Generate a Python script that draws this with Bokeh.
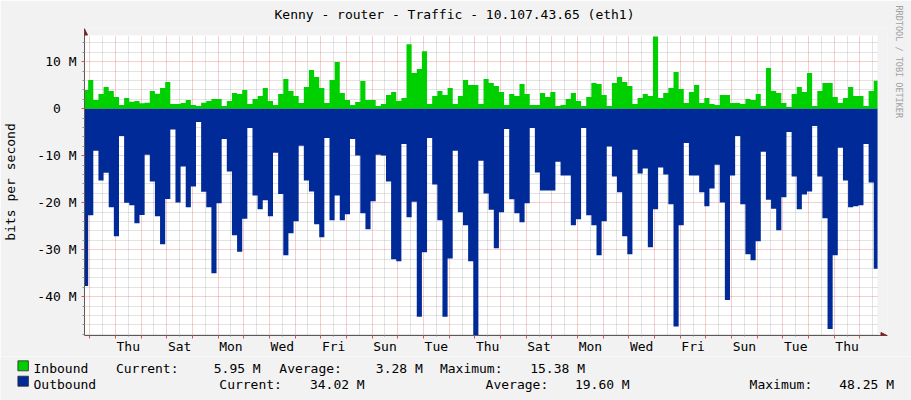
import numpy as np
from bokeh.plotting import figure
from bokeh.layouts import column
from bokeh.core.properties import value
from bokeh.models import (FixedTicker, Grid, Arrow, NormalHead, Range1d, Title, BoxAnnotation)
from bokeh.embed import file_html
from bokeh.resources import INLINE

# ---------------- data (Mbit/s), one value per 4.8 h sample ----------------
inbound = [
    3.99, 6.11, 1.87, 3.14, 4.63, 3.78, 2.50, 0.81, 2.29, 1.51, 1.65, 1.16, 1.30,
    3.78, 3.21, 4.41, 5.69, 1.02, 1.02, 1.23, 1.87, 0.81, 0.59, 1.30, 1.65, 2.08,
    2.08, 0.59, 1.65, 3.35, 3.14, 3.99, 1.02, 2.08, 2.72, 4.41, 1.65, 0.81, 3.14,
    6.32, 3.78, 2.72, 1.23, 4.63, 8.23, 6.75, 4.41, 1.23, 6.11, 9.93, 3.35, 1.87,
    0.81, 1.44, 5.90, 1.87, 1.87, 0.59, 1.02, 2.93, 3.56, 1.65, 2.29, 13.75, 7.60,
    8.44, 12.26, 1.02, 2.72, 3.78, 2.93, 4.41, 1.02, 2.72, 6.11, 5.05, 5.05, 1.02,
    6.32, 5.47, 4.84, 3.56, 0.81, 3.14, 2.72, 5.26, 3.14, 0.81, 0.81, 3.35, 2.50,
    3.56, 0.59, 0.81, 2.08, 3.35, 1.65, 0.59, 2.50, 5.47, 5.26, 2.93, 0.59, 5.47,
    6.75, 5.69, 4.84, 1.02, 2.29, 3.14, 2.72, 15.38, 2.29, 3.35, 4.41, 7.81, 4.20,
    1.23, 3.56, 5.05, 1.23, 2.29, 1.02, 0.81, 2.93, 2.93, 1.23, 1.23, 1.02, 2.08,
    1.87, 3.14, 0.59, 8.66, 3.78, 3.35, 1.23, 0.38, 3.14, 4.63, 3.56, 7.60, 0.59,
    3.78, 5.47, 5.47, 2.50, 1.23, 2.29, 4.63, 2.72, 2.72, 0.59, 3.78, 5.95,
]
outbound = [
    37.74, 22.67, 8.95, 15.25, 13.62, 20.98, 27.13, 5.77, 19.99, 20.55, 24.37, 22.60, 9.80,
    15.46, 22.89, 28.83, 19.21, 4.43, 19.92, 12.28, 20.98, 16.52, 2.80, 17.65, 20.98, 34.98,
    20.13, 6.41, 13.34, 26.92, 30.45, 23.38, 4.07, 18.43, 21.40, 19.49, 22.89, 9.38, 18.15,
    31.16, 26.49, 23.95, 7.89, 15.25, 17.58, 24.58, 27.34, 6.20, 23.73, 18.43, 23.73, 22.46,
    6.41, 9.94, 22.25, 25.64, 19.70, 9.80, 9.94, 15.46, 32.01, 32.43, 7.47, 23.10, 19.77,
    44.24, 30.52, 6.20, 16.10, 23.73, 44.24, 31.87, 8.95, 22.04, 24.79, 32.43, 48.25, 11.07,
    18.01, 21.47, 29.67, 22.04, 4.29, 19.28, 22.25, 24.16, 20.13, 4.07, 13.55, 17.37, 17.37,
    17.37, 11.29, 14.19, 14.19, 24.79, 23.52, 4.07, 22.67, 24.79, 31.16, 23.95, 8.03, 14.40,
    17.79, 27.13, 30.95, 8.74, 13.76, 12.70, 29.46, 21.40, 12.49, 13.97, 20.34, 46.36, 24.79,
    7.26, 14.19, 14.19, 17.79, 20.76, 16.94, 11.92, 19.92, 40.71, 14.19, 5.77, 20.34, 30.95,
    32.22, 28.19, 9.17, 19.35, 21.26, 25.86, 18.85, 4.92, 14.40, 21.40, 18.22, 17.58, 3.65,
    14.40, 23.31, 46.86, 31.16, 8.32, 15.25, 20.98, 20.76, 20.55, 7.47, 15.67, 34.02,
]
first_sample_day = -0.262   # start of first sample, in days after Wednesday 00:00
sample_days = 0.2           # 4.8 hours per sample

day_labels = ["Thu", "Sat", "Mon", "Wed", "Fri", "Sun", "Tue", "Thu",
              "Sat", "Mon", "Wed", "Fri", "Sun", "Tue", "Thu"]
day_label_pos = [1.5 + 2 * i for i in range(len(day_labels))]   # noon of each labelled day

y_ticks = [10, 0, -10, -20, -30, -40]
y_tick_labels = ["10 M", "0\u00a0\u00a0", "-10 M", "-20 M", "-30 M", "-40 M"]

title_text = "Kenny - router - Traffic - 10.107.43.65 (eth1)"
y_label = "bits per second"
watermark = "RRDTOOL / TOBI OETIKER"
series_names = ["Inbound", "Outbound"]
stat_names = ["Current:", "Average:", "Maximum:"]
inbound_stats = ["5.95 M", "3.28 M", "15.38 M"]
outbound_stats = ["34.02 M", "19.60 M", "48.25 M"]

# ---------------- geometry ----------------
FONT = "DejaVu Sans Mono"
BG = "#F2F2F2"
IN_COLOR, OUT_COLOR = "#00CF00", "#002A97"
X_START, X_DATA_END = -0.205, 30.686        # visible time span (days)
Y_START, Y_DATA_END = -48.25, 15.6          # visible value span (M)
FL, FT, FW, FH = 81, 35, 797, 301           # white canvas in page pixels
EXT_R, EXT_T = 10, 7                        # extra frame room for the axis arrows
MAIN_H = 356
day_per_px = (X_DATA_END - X_START) / FW
m_per_px = (Y_DATA_END - Y_START) / FH
X_END = X_DATA_END + EXT_R * day_per_px
Y_END = Y_DATA_END + EXT_T * m_per_px

edges = first_sample_day + sample_days * np.arange(len(inbound) + 1)
xs = np.minimum(np.repeat(edges, 2)[1:-1], X_DATA_END)
y_in = np.repeat(np.array(inbound), 2)
y_out = -np.repeat(np.array(outbound), 2)

p = figure(width=911, height=MAIN_H, output_backend="svg", toolbar_location=None,
           title=None, x_range=Range1d(X_START, X_END), y_range=Range1d(Y_START, Y_END),
           min_border_left=FL, min_border_top=FT - EXT_T,
           min_border_right=911 - FL - FW - EXT_R, min_border_bottom=MAIN_H - FT - FH,
           background_fill_color=BG, border_fill_color=BG, outline_line_color=None)

# white canvas behind the data
p.add_layout(BoxAnnotation(left=X_START, right=X_DATA_END, bottom=Y_START, top=Y_DATA_END,
                           fill_color="white", fill_alpha=1.0, line_color=None,
                           level="underlay"))

# grids
p.xgrid.visible = False
p.ygrid.visible = False
minor_x = [d + 0.5 for d in range(-1, 31)]
major_x = list(range(0, 31))
minor_y = [v for v in range(-48, 16, 2) if v % 10 != 0]
major_y = list(range(-40, 11, 10))
for dim, ticks, color, alpha in [(0, minor_x, "#8f8f8f", 0.5), (1, minor_y, "#8f8f8f", 0.5),
                                  (0, major_x, "#de4f4f", 0.55), (1, major_y, "#de4f4f", 0.55)]:
    cb = (Y_START, Y_DATA_END) if dim == 0 else (X_START, X_DATA_END)
    p.add_layout(Grid(dimension=dim, ticker=FixedTicker(ticks=ticks), cross_bounds=cb,
                      grid_line_color=color, grid_line_alpha=alpha,
                      grid_line_dash="1 1", level="underlay"))

r_in = p.varea(x=xs, y1=0, y2=y_in, fill_color=IN_COLOR)
r_out = p.varea(x=xs, y1=0, y2=y_out, fill_color=OUT_COLOR)

# axes
ax = p.xaxis[0]
ax.ticker = FixedTicker(ticks=day_label_pos, minor_ticks=major_x)
ax.major_label_overrides = {d: n for d, n in zip(day_label_pos, day_labels)}
ay = p.yaxis[0]
ay.ticker = FixedTicker(ticks=y_ticks, minor_ticks=minor_y)
ay.major_label_overrides = {t: s for t, s in zip(y_ticks, y_tick_labels)}
for a in (ax, ay):
    a.axis_line_color = "#5a5a5a"
    a.major_label_text_font = FONT
    a.major_label_text_font_size = "13px"
    a.major_label_text_color = "black"
    a.major_tick_in = 0
    a.minor_tick_in = 0
ax.major_tick_out = 1
ax.major_tick_line_color = "#8f8f8f"
ax.minor_tick_out = 3
ax.minor_tick_line_color = "#de4f4f"
ax.major_label_standoff = 0
ay.major_tick_out = 3
ay.major_tick_line_color = "#de4f4f"
ay.minor_tick_out = 2
ay.minor_tick_line_color = "#8f8f8f"
ay.major_label_standoff = 5
ay.axis_label = y_label
ay.axis_label_text_font = FONT
ay.axis_label_text_font_size = "13px"
ay.axis_label_text_font_style = "normal"
ay.axis_label_text_color = "black"
ay.axis_label_standoff = 16

# axis arrows (inside the slightly enlarged frame)
arrow_col = "#801F1F"
p.add_layout(Arrow(x_start=X_DATA_END, y_start=Y_START, x_end=X_DATA_END + 9.5 * day_per_px,
                   y_end=Y_START, line_alpha=0,
                   end=NormalHead(size=6, fill_color=arrow_col, line_color=arrow_col, line_width=1)))
p.add_layout(Arrow(x_start=X_START, y_start=Y_DATA_END, x_end=X_START,
                   y_end=Y_DATA_END + 6.5 * m_per_px, line_alpha=0,
                   end=NormalHead(size=6, fill_color=arrow_col, line_color=arrow_col, line_width=1)))

# title and watermark
p.add_layout(Title(text=title_text, align="left", offset=190, standoff=9,
                   vertical_align="top",
                   text_font=FONT, text_font_size="13px", text_font_style="normal",
                   text_color="black"), "above")
p.add_layout(Title(text=watermark, align="left", offset=-23, standoff=12,
                   text_font=FONT, text_font_size="8.5px", text_font_style="normal",
                   text_color="#a0a0a0"), "right")

# ---------------- legend strip (page pixels, y downwards) ----------------
STRIP_H = 400 - MAIN_H
leg = figure(frame_width=911, frame_height=STRIP_H, output_backend="svg",
             toolbar_location=None, title=None,
             x_range=Range1d(0, 911), y_range=Range1d(400, MAIN_H),
             min_border=0, x_axis_type=None, y_axis_type=None,
             background_fill_color=BG, border_fill_color=BG, outline_line_color=None)
leg.grid.visible = False
for fig in (p, leg):
    if "frame_align" in fig.properties():
        fig.frame_align = False

row_base = [368.3, 383.7]            # text baselines of the two legend rows
box_top = [360.3, 375.7]
box_h = 10.0
leg.quad(left=[17.4, 17.4], right=[27.9, 27.9],
         top=box_top, bottom=[t + box_h for t in box_top],
         fill_color=[IN_COLOR, OUT_COLOR], line_color="#2a2a2a", line_width=0.8)

left_x = [33.0, 115.4, 278.8, 439.4, 33.0, 218.8, 485.1, 749.1]
left_y = [row_base[0]] * 4 + [row_base[1]] * 4
left_t = [series_names[0]] + stat_names + [series_names[1]] + stat_names
right_x = [260.2, 422.3, 584.5, 364.2, 629.2, 893.5]
right_y = [row_base[0]] * 3 + [row_base[1]] * 3
right_t = inbound_stats + outbound_stats
leg.text(x=left_x, y=left_y, text=left_t, text_align="left", text_baseline="alphabetic",
         text_font=value(FONT), text_font_size=value("13px"), text_color="black")
leg.text(x=right_x, y=right_y, text=right_t, text_align="right", text_baseline="alphabetic",
         text_font=value(FONT), text_font_size=value("13px"), text_color="black")

page = column(p, leg, spacing=0)
open("out.html", "w").write(file_html(page, INLINE))
